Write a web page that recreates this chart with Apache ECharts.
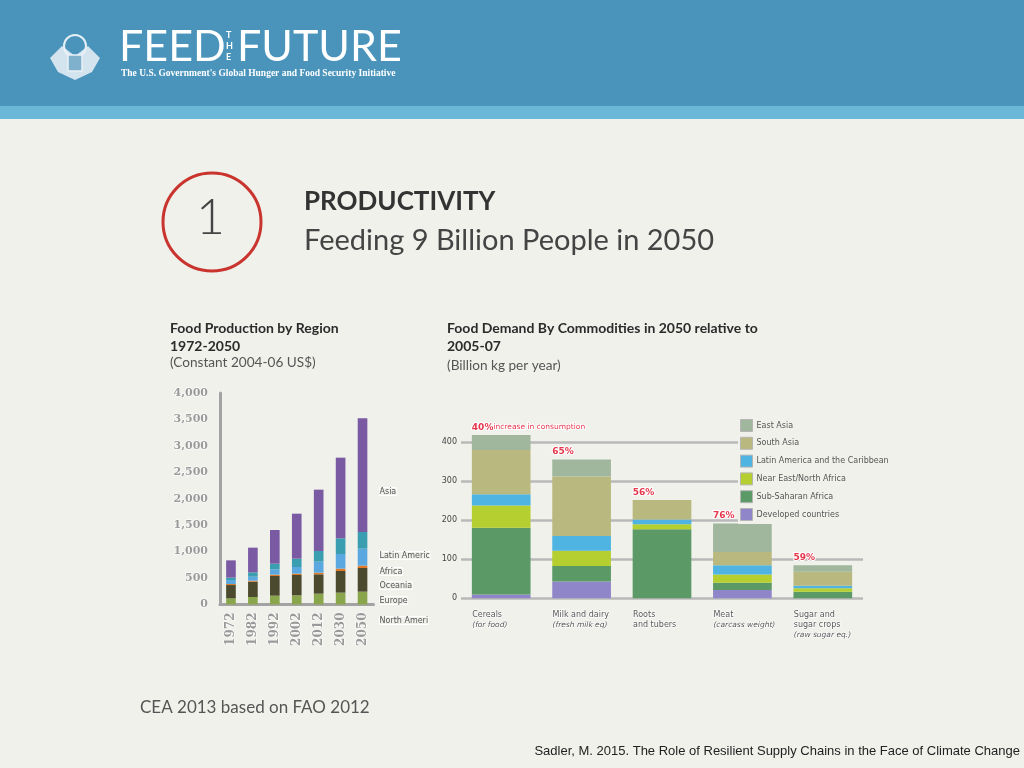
<!DOCTYPE html>
<html>
<head>
<meta charset="utf-8">
<script src="https://cdn.jsdelivr.net/npm/echarts@6/dist/echarts.min.js"></script>
<style>
html,body{margin:0;padding:0;background:#f1f1ec;}
#chart{width:1024px;height:768px;}
</style>
</head>
<body>
<div id="chart"></div>
<script>
// ---- Left chart: Food production by region (constant 2004-06 US$) ----
const years = ['1972','1982','1992','2002','2012','2030','2050'];
const northAmerica = [115,142,167,173,205,224,243];
const europe       = [253,290,372,385,366,410,447];
const oceania      = [20,18,25,25,31,44,45];
const africa       = [75,76,101,126,208,277,321];
const latinAmerica = [45,82,107,158,202,297,315];
const asia         = [327,467,637,851,1160,1525,2150];
const regionNames  = ['North Ameri','Europe','Oceania','Africa','Latin Americ','Asia'];

// ---- Right chart: Food demand by commodities (billion kg per year) ----
const commodities     = ['Cereals','Milk and dairy','Roots','Meat','Sugar and'];
const commodityNotes  = [['(for food)'],['(fresh milk eq)'],['and tubers'],['(carcass weight)'],['sugar crops','(raw sugar eq.)']];
const developed   = [10,43,0,21,0];
const subSaharan  = [171,40,177,19,17];
const nearEast    = [57,39,13,21,9];
const latinCarib  = [29,38,12,24,6];
const southAsia   = [113,152,50,34,36];
const eastAsia    = [39,44,0,73,17];
const increases   = ['40%','65%','56%','76%','59%'];
const demandNames = ['East Asia','South Asia','Latin America and the Caribbean','Near East/North Africa','Sub-Saharan Africa','Developed countries'];

const chart = echarts.init(document.getElementById('chart'), null, {renderer:'canvas'});

const leftColors = ['#8aa64c','#4b4a2e','#e07a2a','#5aa8df','#3a9db0','#7a5ba3'];
const leftData = [northAmerica, europe, oceania, africa, latinAmerica, asia];
const rightColors = {
  'East Asia':'#a0b79d','South Asia':'#b9b97f','Latin America and the Caribbean':'#4fb4e2',
  'Near East/North Africa':'#b4cf2f','Sub-Saharan Africa':'#5b9a66','Developed countries':'#8f86c9'
};
const rightData = [
  ['Developed countries', developed],
  ['Sub-Saharan Africa', subSaharan],
  ['Near East/North Africa', nearEast],
  ['Latin America and the Caribbean', latinCarib],
  ['South Asia', southAsia],
  ['East Asia', eastAsia]
];
const cerealTotal = rightData.reduce((s,d)=>s+d[1][0],0);

const series = [];
leftData.forEach((arr,i)=>{
  series.push({
    name: regionNames[i], type:'bar', stack:'prod', xAxisIndex:0, yAxisIndex:0,
    data: arr, barWidth:'44%', itemStyle:{color:leftColors[i]}, silent:true
  });
});
rightData.forEach(([name,arr],i)=>{
  const s = {
    name, type:'bar', stack:'demand', xAxisIndex:1, yAxisIndex:1, data:arr,
    barWidth:'73%', clip:false,
    itemStyle:{color:rightColors[name]}, silent:true
  };
  if (name==='East Asia'){
    s.label = {
      show:true, position:[0,-12],
      formatter:(p)=> p.dataIndex===0 ? '{p|'+increases[0]+'}{t|increase in consumption}' : '{p|'+increases[p.dataIndex]+'}',
      rich:{
        p:{color:'#e6374c',fontSize:9,fontWeight:'bold',fontFamily:'DejaVu Sans',textBorderColor:'#fff',textBorderWidth:2},
        t:{color:'#e6374c',fontSize:7.5,fontFamily:'DejaVu Sans',textBorderColor:'#fff',textBorderWidth:2}
      }
    };
    s.markLine = {
      silent:true, symbol:'none', label:{show:false},
      lineStyle:{color:'#ffffff',type:'dashed',width:1.2,opacity:0.8},
      data:[[{coord:[0,0]},{coord:[0,cerealTotal]}]]
    };
  }
  series.push(s);
});

const g = [];
// header
g.push({type:'rect',shape:{x:0,y:0,width:1024,height:107},style:{fill:'#4a94bc'},z:0});
g.push({type:'rect',shape:{x:0,y:106,width:1024,height:13},style:{fill:'#6ab7d8'},z:0});
// seal
g.push({type:'circle',shape:{cx:75,cy:46,r:11},style:{fill:'none',stroke:'rgba(255,255,255,0.85)',lineWidth:2},z:1});
g.push({type:'polygon',shape:{points:[[50,58],[62,46],[75,56],[88,46],[100,58],[92,72],[75,80],[58,72]]},style:{fill:'rgba(235,242,248,0.85)'},z:1});
g.push({type:'rect',shape:{x:68,y:55,width:14,height:16},style:{fill:'#7fb0cc',stroke:'#e8f0f6',lineWidth:1.5},z:2});
// FEED THE FUTURE
g.push({type:'text',left:119,top:26,style:{text:'FEED',fill:'#ffffff',font:'400 43px Lato'},z:2});
g.push({type:'text',left:226,top:30,style:{text:'T\nH\nE',fill:'#ffffff',font:'bold 9px Lato',lineHeight:11,align:'center'},z:2});
g.push({type:'text',left:237,top:26,style:{text:'FUTURE',fill:'#ffffff',font:'400 43px Lato'},z:2});
g.push({type:'text',left:121,top:69,style:{text:"The U.S. Government's Global Hunger and Food Security Initiative",fill:'#ffffff',font:'bold 9.5px "Liberation Serif"'},z:2});
// circle 1
g.push({type:'circle',shape:{cx:212,cy:222,r:49},style:{fill:'none',stroke:'#c9342e',lineWidth:3},z:2});
g.push({type:'text',left:196,top:193,style:{text:'1',fill:'#444',font:'300 50px Lato'},z:2});
g.push({type:'text',left:304,top:189,style:{text:'PRODUCTIVITY',fill:'#333',font:'bold 26px Lato'},z:2});
g.push({type:'text',left:304,top:226,style:{text:'Feeding 9 Billion People in 2050',fill:'#444',font:'400 29px Lato'},z:2});
// subtitles
g.push({type:'text',left:170,top:319,style:{text:'Food Production by Region\n1972-2050',fill:'#2b2b2b',font:'bold 14px Lato',lineHeight:18},z:2});
g.push({type:'text',left:170,top:356,style:{text:'(Constant 2004-06 US$)',fill:'#555',font:'400 13.6px Lato'},z:2});
g.push({type:'text',left:447,top:319,style:{text:'Food Demand By Commodities in 2050 relative to\n2005-07',fill:'#2b2b2b',font:'bold 14px Lato',lineHeight:18},z:2});
g.push({type:'text',left:447,top:359,style:{text:'(Billion kg per year)',fill:'#555',font:'400 13.6px Lato'},z:2});
// region labels
const regionLabelY = [621,601,586,572,556,492];
regionNames.forEach((n,i)=>{
  g.push({type:'text',left:379,top:regionLabelY[i]-5,style:{text:n,fill:'#555',font:'8px "DejaVu Sans"',textBorderColor:'#fff',textBorderWidth:1},z:5});
});
// source texts
g.push({type:'text',left:140,top:699,style:{text:'CEA 2013 based on FAO 2012',fill:'#555',font:'400 17px Lato'},z:2});
g.push({type:'text',right:4,top:745,style:{text:'Sadler, M. 2015. The Role of Resilient Supply Chains in the Face of Climate Change',fill:'#222',font:'13px "Liberation Sans"'},z:2});

const option = {
  backgroundColor:'#f1f1ec',
  animation:false,
  graphic:{elements:g},
  legend:{
    data: demandNames, orient:'vertical', left:738, top:416,
    itemWidth:12, itemHeight:12, itemGap:4.8, icon:'rect',
    padding:[3,8,3,2], backgroundColor:'#f1f1ec',
    selectedMode:false,
    itemStyle:{borderColor:'#b5b5b5',borderWidth:1},
    textStyle:{fontSize:8,color:'#555',fontFamily:'DejaVu Sans',padding:[0,0,0,-1]}
  },
  grid:[
    {left:220,top:393,width:153.5,height:211.5},
    {left:461,top:442.3,width:402,height:156}
  ],
  xAxis:[
    {gridIndex:0,type:'category',data:years,
     axisLine:{lineStyle:{color:'#a3a3a3',width:3}},axisTick:{show:false},
     axisLabel:{rotate:90,margin:8,color:'#9a9a9a',fontFamily:'DejaVu Serif',fontWeight:'bold',fontSize:12,textBorderColor:'#fff',textBorderWidth:1}},
    {gridIndex:1,type:'category',data:commodities,
     axisLine:{show:false},axisTick:{show:false},
     axisLabel:{margin:12,interval:0,
       formatter:(v,i)=>{
         let s='{a|'+v+'}';
         commodityNotes[i].forEach(t=>{ s+='\n'+(t.startsWith('(')?'{i|'+t+'}':'{a|'+t+'}'); });
         return s;
       },
       rich:{
         a:{width:58,align:'left',fontSize:8,color:'#555',fontFamily:'DejaVu Sans',lineHeight:10,textBorderColor:'#fff',textBorderWidth:1},
         i:{width:58,align:'left',fontSize:7.5,color:'#555',fontStyle:'italic',fontFamily:'DejaVu Sans',lineHeight:10,textBorderColor:'#fff',textBorderWidth:1}
       }}}
  ],
  yAxis:[
    {gridIndex:0,type:'value',min:0,max:4000,interval:500,
     axisLine:{show:true,lineStyle:{color:'#a3a3a3',width:3}},axisTick:{show:false},splitLine:{show:false},
     axisLabel:{margin:12,color:'#9a9a9a',fontFamily:'DejaVu Serif',fontWeight:'bold',fontSize:11,textBorderColor:'#fff',textBorderWidth:1,
       formatter:(v)=>v.toLocaleString('en-US')}},
    {gridIndex:1,type:'value',min:0,max:400,interval:100,
     axisLine:{show:false},axisTick:{show:false},
     splitLine:{show:true,lineStyle:{color:'#b9b9b9',width:2.5}},
     axisLabel:{margin:4,color:'#444',fontFamily:'DejaVu Sans',fontSize:8}}
  ],
  series
};
chart.setOption(option);
</script>
</body>
</html>
